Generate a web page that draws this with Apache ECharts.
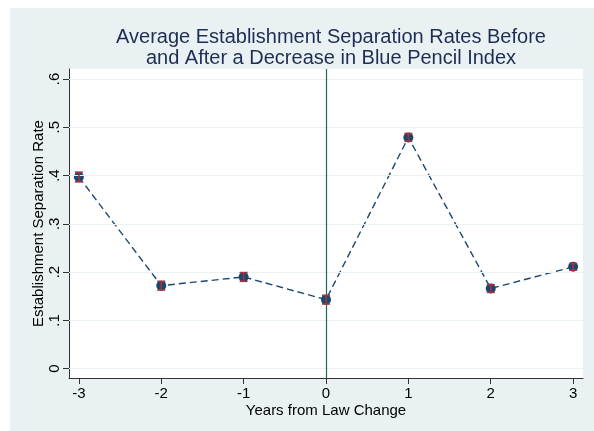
<!DOCTYPE html>
<html>
<head>
<meta charset="utf-8">
<script src="https://cdn.jsdelivr.net/npm/echarts@6/dist/echarts.min.js"></script>
<style>html,body{margin:0;padding:0;background:#fff;}#c{width:594px;height:431px;}</style>
</head>
<body>
<div id="c"></div>
<script>
const years = [-3, -2, -1, 0, 1, 2, 3];
const rates = [0.397, 0.172, 0.190, 0.143, 0.479, 0.166, 0.211];
const ciLow = [0.387, 0.163, 0.181, 0.134, 0.471, 0.158, 0.204];
const ciHigh = [0.407, 0.181, 0.199, 0.152, 0.487, 0.174, 0.218];
const xTicks = [-3, -2, -1, 0, 1, 2, 3];
const yTicks = [0, 0.1, 0.2, 0.3, 0.4, 0.5, 0.6];

const FONT = '"Liberation Sans", Arial, Helvetica, sans-serif';
const navy = '#1a476f';
const cap = '#a0353f';

function fmtY(v) {
  if (Math.abs(v) < 1e-9) return '0';
  return '.' + Math.round(v * 10);
}

const chart = echarts.init(document.getElementById('c'), null, {renderer: 'canvas'});
chart.setOption({
  animation: false,
  backgroundColor: '#ffffff',
  graphic: [{
    type: 'rect', z: -10, silent: true,
    shape: {x: 10, y: 8, width: 584, height: 423},
    style: {fill: '#eaf1f3'}
  }],
  title: {
    text: 'Average Establishment Separation Rates Before\nand After a Decrease in Blue Pencil Index',
    left: 326, top: 22, textAlign: 'center',
    textStyle: {fontFamily: FONT, fontSize: 20, fontWeight: 'normal', color: '#1e2d53', lineHeight: 21}
  },
  grid: {
    left: 69, top: 69, right: 11, bottom: 53,
    show: true, backgroundColor: '#ffffff', borderWidth: 0
  },
  xAxis: {
    type: 'value', min: -3.12, max: 3.12,
    name: 'Years from Law Change', nameLocation: 'middle', nameGap: 25, nameMoveOverlap: false,
    nameTextStyle: {fontFamily: FONT, fontSize: 15, color: '#000'},
    axisLine: {show: true, onZero: false, lineStyle: {color: '#333', width: 1}},
    axisTick: {show: true, length: 6, customValues: xTicks, lineStyle: {color: '#333'}},
    axisLabel: {customValues: xTicks, margin: 8, fontFamily: FONT, fontSize: 15, color: '#000',
      formatter: v => String(Math.round(v))},
    splitLine: {show: false}
  },
  yAxis: {
    type: 'value', min: -0.0193, max: 0.6207,
    name: 'Establishment Separation Rate', nameLocation: 'middle', nameGap: 23, nameMoveOverlap: false,
    nameTextStyle: {fontFamily: FONT, fontSize: 15, color: '#000'},
    axisLine: {show: true, onZero: false, lineStyle: {color: '#333', width: 1}},
    axisTick: {show: true, length: 6, customValues: yTicks, lineStyle: {color: '#333'}},
    axisLabel: {customValues: yTicks, rotate: 90, margin: 7, fontFamily: FONT, fontSize: 15, color: '#000',
      formatter: fmtY},
    splitLine: {show: false}
  },
  series: [
    {
      type: 'line', name: 'grid', data: [], silent: true,
      markLine: {
        silent: true, symbol: 'none', label: {show: false},
        lineStyle: {color: '#eaf1f3', width: 1, type: 'solid'},
        data: yTicks.map(v => ({yAxis: v}))
      }
    },
    {
      type: 'line', name: 'rate',
      data: years.map((x, i) => [x, rates[i]]),
      symbol: 'circle', symbolSize: 10,
      itemStyle: {color: navy},
      lineStyle: {color: navy, width: 1.4, type: [7, 4]},
      z: 3,
      markLine: {
        silent: true, symbol: 'none', label: {show: false},
        lineStyle: {color: '#1b6b58', width: 1.2, type: 'solid'},
        data: [{xAxis: 0}]
      }
    },
    {
      type: 'custom', name: 'ci', z: 5,
      data: years.map((x, i) => [x, ciLow[i], ciHigh[i]]),
      renderItem: function (params, api) {
        const x = api.value(0);
        const lo = api.coord([x, api.value(1)]);
        const hi = api.coord([x, api.value(2)]);
        const w = 4;
        const st = {stroke: cap, lineWidth: 1.6};
        return {
          type: 'group',
          children: [
            {type: 'line', shape: {x1: lo[0], y1: lo[1], x2: hi[0], y2: hi[1]}, style: st},
            {type: 'line', shape: {x1: lo[0] - w, y1: lo[1], x2: lo[0] + w, y2: lo[1]}, style: st},
            {type: 'line', shape: {x1: hi[0] - w, y1: hi[1], x2: hi[0] + w, y2: hi[1]}, style: st}
          ]
        };
      }
    }
  ]
});
</script>
</body>
</html>
